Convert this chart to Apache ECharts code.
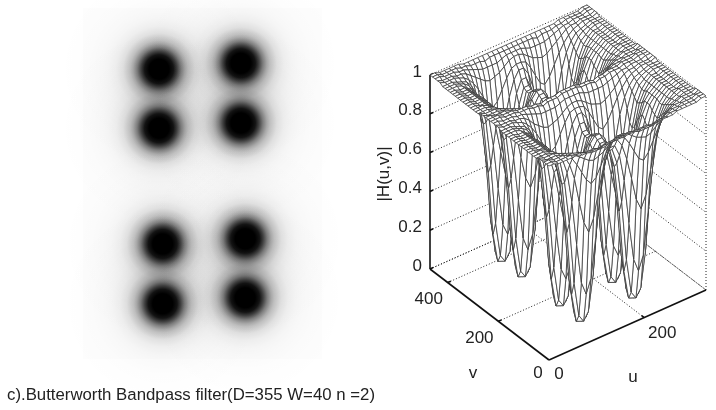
<!DOCTYPE html>
<html><head><meta charset="utf-8">
<style>html,body{margin:0;padding:0;background:#fff}#c{width:716px;height:410px}</style>
<script src="https://cdn.jsdelivr.net/npm/echarts@6/dist/echarts.min.js"></script>
</head><body><div id="c"></div>
<script>
// Left panel: centres of the dark spots, in (u, v)
const spotCentres = [[105,82],[218,74],[105,161],[218,154],[110,316],[224,309],[110,396],[224,388]];
// Right panel: tick values
const uTicks = [0,200];
const vTicks = [0,200,400];
const zTicks = [0,0.2,0.4,0.6,0.8,1];
const uMax = 330, vMax = 470, gridStep = 10;
const caption = 'c).Butterworth Bandpass filter(D=355 W=40 n =2)';
// |H(u,v)| in percent, one row per 10 units of v, one column per 10 units of u
const r0 =[100,100,99,99,99,99,99,98,98,98,98,98,98,98,98,98,98,98,98,98,98,98,98,98,98,98,98,99,99,99,99,99,100,100];
const r1 =[100,100,99,99,99,99,98,98,97,97,97,96,97,97,97,97,97,97,97,97,97,97,96,97,97,97,98,98,99,99,99,99,100,100];
const r2 =[100,100,99,99,99,98,98,97,96,95,94,94,94,94,95,96,96,96,96,95,94,94,94,94,95,96,97,98,98,99,99,99,100,100];
const r3 =[100,99,99,99,98,98,97,95,93,91,89,88,89,90,92,94,95,95,94,92,90,89,88,89,91,93,95,97,98,98,99,99,99,100];
const r4 =[100,99,99,99,98,97,95,92,88,83,78,75,77,82,87,91,92,92,91,87,82,77,75,78,83,88,92,95,97,98,99,99,99,100];
const r5 =[99,99,99,98,97,96,93,88,80,67,55,49,55,67,78,86,90,90,86,78,67,55,49,55,67,80,88,93,96,97,98,99,99,99];
const r6 =[99,99,99,98,97,95,91,83,67,44,23,16,23,43,66,80,86,86,80,66,43,23,16,23,44,67,83,91,95,97,98,99,99,99];
const r7 =[99,99,99,98,96,94,89,77,55,23,5,1,5,23,54,75,83,83,75,54,23,5,1,5,23,55,77,89,94,96,98,99,99,99];
const r8 =[99,99,98,98,96,93,87,75,49,16,1,0,1,16,48,72,82,82,72,48,16,1,0,1,16,49,75,87,93,96,98,98,99,99];
const r9 =[99,99,98,98,96,93,88,77,54,23,5,1,5,23,53,74,82,82,74,53,23,5,1,5,23,54,77,88,93,96,98,98,99,99];
const r10=[99,99,98,98,96,94,89,81,65,42,22,16,22,41,63,78,84,84,78,63,41,22,16,22,42,65,81,89,94,96,98,98,99,99];
const r11=[99,99,98,98,96,94,91,84,75,62,49,44,49,61,73,81,85,85,81,73,61,49,44,49,62,75,84,91,94,96,98,98,99,99];
const r12=[99,99,98,98,96,94,91,86,78,69,61,58,60,68,76,83,86,86,83,76,68,60,58,61,69,78,86,91,94,96,98,98,99,99];
const r21=[100,99,99,99,98,98,97,95,92,90,88,87,88,89,91,93,94,94,93,91,89,88,87,88,90,92,95,97,98,98,99,99,99,100];
const r22=[100,100,99,99,99,98,98,97,96,95,94,94,94,94,95,96,96,96,96,95,94,94,94,94,95,96,97,98,98,99,99,99,100,100];
const r23=[100,100,100,99,99,99,98,98,98,97,97,96,97,97,97,98,98,98,98,97,97,97,96,97,97,98,98,98,99,99,99,100,100,100];
const heightRows = [r0,r1,r2,r3,r4,r5,r6,r7,r8,r9,r10,r11,r12,r11,r10,r9,r8,r7,r6,r5,r4,r21,r22,r23,
                    r23,r22,r21,r4,r5,r6,r7,r8,r9,r10,r11,r12,r11,r10,r9,r8,r7,r6,r5,r4,r3,r2,r1,r0];

// Fixed oblique view of the (u, v, z) box
function project(u,v,z){
  return [549 + u/uMax*157 - v/vMax*119, 360 - u/uMax*70 - v/vMax*91 - z*194];
}
// mesh cells, far to near
const cells = [];
for(let j=heightRows.length-2;j>=0;j--) for(let i=heightRows[0].length-2;i>=0;i--) cells.push([i,j]);

// box lines: [u0,v0,z0,u1,v1,z1,solid]
const frame = [];
zTicks.forEach(z=>{
  frame.push([0,vMax,z,uMax,vMax,z,0]);
  frame.push([uMax,vMax,z,uMax,0,z,0]);
  frame.push([0,vMax,z,uMax*0.02,vMax,z,1]);
});
vTicks.forEach(v=>{ if(v>0){ frame.push([0,v,0,uMax,v,0,0]); frame.push([0,v,0,uMax*0.02,v,0,1]); } });
uTicks.forEach(u=>{ if(u>0){ frame.push([u,0,0,u,vMax,0,0]); frame.push([u,0,0,u,vMax*0.02,0,1]); } });
frame.push([uMax,0,0,uMax,0,1,0]);
frame.push([uMax,vMax,0,uMax,vMax,1,0]);
frame.push([uMax,0,0,uMax,vMax,0,0]);
frame.push([0,vMax,0,uMax,vMax,0,0]);
frame.push([0,vMax,0,0,vMax,1,1]);
frame.push([0,0,0,0,vMax,0,1]);
frame.push([0,0,0,uMax,0,0,1]);

// text labels: [u,v,z,text,dx,dy,align]
const labels = [];
zTicks.forEach(z=>labels.push([0,vMax,z,String(z),-8,-3,'right']));
vTicks.forEach(v=>labels.push([0,v,0,String(v),v===0?-11:-19,v===0?13:17,'center']));
uTicks.forEach(u=>labels.push([u,0,0,String(u),u===0?10:18,u===0?14:16,'center']));

const FONT = '"Liberation Sans", Arial, sans-serif';
const chart = echarts.init(document.getElementById('c'),null,{renderer:'canvas'});
chart.setOption({
  animation:false,
  backgroundColor:'#fff',
  grid:[
    {left:83,top:8,width:239,height:351,show:true,backgroundColor:'#fdfdfd',borderWidth:0},
    {left:400,top:0,width:316,height:400,show:false}
  ],
  xAxis:[
    {gridIndex:0,type:'value',min:0,max:uMax,show:false},
    {gridIndex:1,type:'value',min:400,max:716,show:false}
  ],
  yAxis:[
    {gridIndex:0,type:'value',min:0,max:vMax,inverse:true,show:false},
    {gridIndex:1,type:'value',min:0,max:400,inverse:true,show:false}
  ],
  graphic:[
    {type:'text',left:7,top:387,style:{text:caption,font:'16.8px '+FONT,fill:'#222'}},
    {type:'text',x:384,y:174,rotation:Math.PI/2,originX:0,originY:0,
      style:{text:'|H(u,v)|',font:'17px '+FONT,fill:'#222',align:'center',verticalAlign:'middle'}},
    {type:'text',x:473,y:373,style:{text:'v',font:'17px '+FONT,fill:'#222',align:'center',verticalAlign:'middle'}},
    {type:'text',x:633,y:377,style:{text:'u',font:'17px '+FONT,fill:'#222',align:'center',verticalAlign:'middle'}}
  ],
  series:[
    {type:'scatter',xAxisIndex:0,yAxisIndex:0,data:spotCentres,symbol:'circle',symbolSize:200,silent:true,clip:true,
      itemStyle:{opacity:1,color:{type:'radial',x:.5,y:.5,r:.5,colorStops:[
        [0,1],[.10,1],[.145,.92],[.18,.74],[.22,.5],[.26,.33],[.29,.24],[.36,.115],[.43,.06],[.51,.033],[.58,.02],[.72,.008],[1,0]
      ].map(s=>({offset:s[0],color:'rgba(0,0,0,'+s[1]+')'}))}}},
    {type:'custom',xAxisIndex:1,yAxisIndex:1,clip:false,silent:true,z:2,data:frame,
      renderItem(p,api){
        const a=api.coord(project(api.value(0),api.value(1),api.value(2)));
        const b=api.coord(project(api.value(3),api.value(4),api.value(5)));
        const solid=api.value(6)===1;
        return {type:'line',shape:{x1:a[0],y1:a[1],x2:b[0],y2:b[1]},
          style:solid?{stroke:'#111',lineWidth:1.6}:{stroke:'#222',lineWidth:1,lineDash:[1,2]}};
      }},
    {type:'custom',xAxisIndex:1,yAxisIndex:1,clip:false,silent:true,z:3,data:cells,
      renderItem(p,api){
        const i=api.value(0), j=api.value(1);
        const corner=(a,b)=>api.coord(project(a*gridStep,b*gridStep,heightRows[b][a]/100));
        return {type:'polygon',shape:{points:[corner(i,j),corner(i+1,j),corner(i+1,j+1),corner(i,j+1)]},
          style:{fill:'#fff',stroke:'#3c3c3c',lineWidth:0.8}};
      }},
    {type:'custom',xAxisIndex:1,yAxisIndex:1,clip:false,silent:true,z:4,data:labels,
      dimensions:['u','v','z',{name:'t',type:'ordinal'},'dx','dy',{name:'al',type:'ordinal'}],
      renderItem(p,api){
        const it=labels[p.dataIndex];
        const a=api.coord(project(it[0],it[1],it[2]));
        return {type:'text',x:a[0]+it[4],y:a[1]+it[5],
          style:{text:it[3],font:'17px '+FONT,fill:'#222',align:it[6],verticalAlign:'middle'}};
      }}
  ]
});
</script></body></html>
